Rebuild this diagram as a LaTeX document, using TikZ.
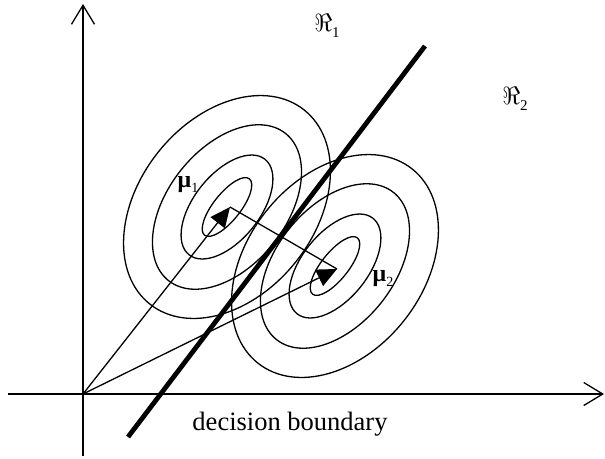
\documentclass[tikz,border=0pt]{standalone}
\usepackage{fontspec}
\setmainfont{Liberation Serif}
\usetikzlibrary{arrows.meta}
\begin{document}
\begin{tikzpicture}[x=1pt,y=-1pt,
  contour/.style={line width=1.3pt},
  axis/.style={line width=1.3pt, -{Straight Barb[length=19pt,width=23pt,line width=1.3pt]}},
  vec/.style={line width=1.3pt, -{Triangle[length=20pt,width=18pt]}},
  boundary/.style={line width=4.8pt},
  lbl/.style={inner sep=0pt}]
\useasboundingbox (0,0) rectangle (605,458);
% coordinates
\coordinate (O) at (83,394);
\coordinate (ybot) at (83,456);
\coordinate (ytop) at (83,4);
\coordinate (xleft) at (8,394);
\coordinate (xright) at (604,394);
\coordinate (c1) at (227,207);
\coordinate (c2) at (335,266);
\coordinate (t1) at (230,207);
\coordinate (t2) at (337,269);
\coordinate (b1) at (128,437);
\coordinate (b2) at (425,46);
% contours
\foreach \a/\b in {36/13.5, 61/33, 94/59, 124/88}{
  \draw[contour, rotate around={51.5:(c1)}] (c1) ellipse [x radius=\a, y radius=\b];
  \draw[contour, rotate around={51.5:(c2)}] (c2) ellipse [x radius=\a, y radius=\b];
}
% axes
\draw[axis] (ybot) -- (ytop);
\draw[axis] (xleft) -- (xright);
% vectors
\draw[vec] (O) -- (t1);
\draw[vec] (O) -- (t2);
\draw[contour] (t1) -- (t2);
% boundary
\draw[boundary] (b1) -- (b2);
% labels
\node[lbl] (R1) at (327,26) {\fontsize{30}{30}\selectfont$\Re$\raisebox{-0.2em}{\fontsize{15}{15}\selectfont 1}};
\node[lbl] (R2) at (515,99) {\fontsize{30}{30}\selectfont$\Re$\raisebox{-0.2em}{\fontsize{15}{15}\selectfont 2}};
\node[lbl] (m1) at (188,185) {\fontsize{24}{24}\selectfont\textbf{μ}\raisebox{-0.2em}{\fontsize{14}{14}\selectfont 1}};
\node[lbl] (m2) at (383,279) {\fontsize{24}{24}\selectfont\textbf{μ}\raisebox{-0.2em}{\fontsize{14}{14}\selectfont 2}};
\node[lbl] (db) at (290,424) {\fontsize{26.5}{30}\selectfont decision boundary};
\end{tikzpicture}
\end{document}
